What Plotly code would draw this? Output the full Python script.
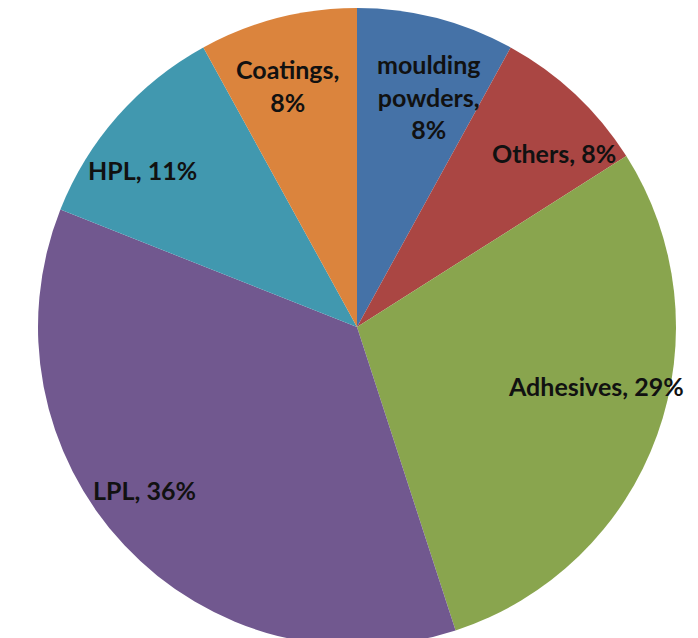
import plotly.graph_objects as go

categories = ["moulding powders", "Others", "Adhesives", "LPL", "HPL", "Coatings"]
shares = [8, 8, 29, 36, 11, 8]
label_text = ["moulding<br>powders,<br>8%", "Others, 8%", "Adhesives, 29%",
              "LPL, 36%", "HPL, 11%", "Coatings,<br>8%"]
colors = ["#4572A7", "#AA4643", "#89A54E", "#71588F", "#4198AF", "#DB843D"]

# label anchor positions (paper fractions)
label_x = [0.602, 0.782, 0.842, 0.196, 0.193, 0.401]
label_y = [0.862, 0.772, 0.407, 0.244, 0.746, 0.879]

W, H = 698, 638

fig = go.Figure(go.Pie(
    labels=categories,
    values=shares,
    textinfo="none",
    sort=False,
    direction="clockwise",
    rotation=0,
    marker=dict(colors=colors, line=dict(width=0)),
    showlegend=False,
    hoverinfo="label+percent",
    domain=dict(x=[0, 1], y=[0, 1]),
))

for t, x, y in zip(label_text, label_x, label_y):
    fig.add_annotation(
        x=x, y=y, xref="paper", yref="paper",
        text=t, showarrow=False, align="center",
        xanchor="center", yanchor="middle",
        font=dict(family="Lato", size=25, color="#111111", weight="bold"),
    )

fig.update_layout(
    width=W, height=H,
    margin=dict(l=0, r=0, t=0, b=0),
    paper_bgcolor="white",
    plot_bgcolor="white",
)

fig.write_html("out.html")
